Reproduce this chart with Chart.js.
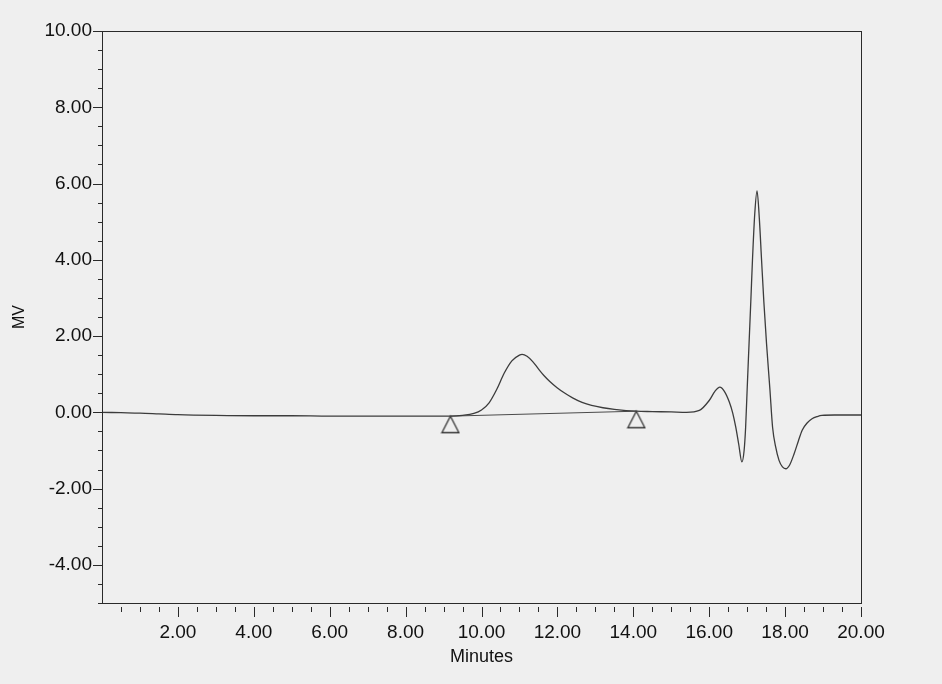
<!DOCTYPE html>
<html>
<head>
<meta charset="utf-8">
<script src="https://cdn.jsdelivr.net/npm/chart.js@4.4.0/dist/chart.umd.min.js"></script>
<style>
  body { margin: 0; background: #efefef; }
  #wrap { width: 942px; height: 684px; }
</style>
</head>
<body>
<div id="wrap"><canvas id="chart1" width="942" height="684"></canvas></div>
<script>
//------------------------------------------- Data -------------------------------------------//
const minutes = [0, 0.5, 1.0, 1.5, 2.0, 3.0, 4.0, 5.0, 6.0, 7.0, 8.0, 9.0, 9.18, 9.5, 9.8,
    10.0, 10.2, 10.4, 10.6, 10.8, 11.0, 11.07, 11.2, 11.35, 11.5, 11.65, 11.8, 12.0, 12.2, 12.4,
    12.65, 12.9, 13.2, 13.5, 14.08, 14.5, 15.0, 15.4, 15.74, 16.0, 16.15, 16.28, 16.4, 16.53,
    16.62, 16.7, 16.78, 16.86, 16.92, 16.96, 17.0, 17.05, 17.1, 17.14, 17.2, 17.26, 17.32, 17.38,
    17.44, 17.51, 17.6, 17.67, 17.75, 17.84, 17.93, 18.02, 18.12, 18.24, 18.35, 18.45, 18.58,
    18.71, 18.85, 18.97, 19.3, 19.6, 20.0];
const mv = [0.0, -0.01, -0.02, -0.04, -0.06, -0.08, -0.09, -0.09, -0.1, -0.1, -0.1, -0.1, -0.1, -0.08, -0.03,
    0.06, 0.25, 0.6, 1.03, 1.35, 1.5, 1.52, 1.47, 1.33, 1.14, 0.96, 0.81, 0.64, 0.5, 0.38,
    0.26, 0.18, 0.12, 0.08, 0.03, 0.02, 0.01, 0.0, 0.05, 0.31, 0.55, 0.66, 0.55, 0.27,
    -0.02, -0.39, -0.85, -1.3, -1.0, -0.39, 0.6, 1.8, 3.0, 3.99, 5.2, 5.81, 5.1, 3.99,
    2.9, 1.81, 0.6, -0.39, -0.9, -1.26, -1.43, -1.48, -1.38, -1.08, -0.75, -0.47, -0.28,
    -0.17, -0.11, -0.08, -0.07, -0.07, -0.07];

// peak start / end (integration baseline + triangle markers)
const peak_minutes = [9.18, 14.08];
const peak_mv = [-0.1, 0.03];

const x_min = 0, x_max = 20;
const y_min = -5, y_max = 10;

//------------------------------------------- Helpers -------------------------------------------//
function toPoints(xs, ys) {
    return xs.map((v, i) => ({x: v, y: ys[i]}));
}

// triangle with its apex in the middle of the image, so it hangs under the point
function makeTriangle() {
    var c = document.createElement('canvas');
    c.width = 20; c.height = 36;
    var g = c.getContext('2d');
    g.strokeStyle = '#333';
    g.lineWidth = 1.3;
    g.beginPath();
    g.moveTo(10, 18);
    g.lineTo(18.5, 34.5);
    g.lineTo(1.5, 34.5);
    g.closePath();
    g.stroke();
    return c;
}

// frame + major/minor tick marks drawn from the scales
const frameTicks = {
    id: 'frameTicks',
    afterDraw(chart) {
        const {ctx, chartArea: a, scales: {x, y}} = chart;
        ctx.save();
        ctx.strokeStyle = '#2a2a2a';
        ctx.lineWidth = 1;
        ctx.strokeRect(a.left + 0.5, a.top + 0.5, a.right - a.left, a.bottom - a.top);
        ctx.beginPath();
        x.ticks.forEach(t => {
            if (t.value === 0) return;
            const px = Math.round(x.getPixelForValue(t.value)) + 0.5;
            const len = t.value % 2 === 0 ? 10 : 5;
            ctx.moveTo(px, a.bottom + 4);
            ctx.lineTo(px, a.bottom + 4 + len);
        });
        y.ticks.forEach(t => {
            const py = Math.round(y.getPixelForValue(t.value)) + 0.5;
            const len = t.value % 2 === 0 ? 9 : 4;
            ctx.moveTo(a.left - len, py);
            ctx.lineTo(a.left, py);
        });
        ctx.stroke();
        ctx.restore();
    }
};

//------------------------------------------- Chart -------------------------------------------//
const tickFont = {family: 'Liberation Sans, Arial, sans-serif', size: 19};

var chart1 = new Chart(document.getElementById('chart1'), {
    type: 'scatter',
    data: {
        datasets: [{
            label: 'MV',
            data: toPoints(minutes, mv),
            showLine: true,
            borderColor: '#3c3c3c',
            borderWidth: 1.3,
            pointRadius: 0,
            cubicInterpolationMode: 'monotone',
            fill: false
        }, {
            label: 'baseline',
            data: toPoints(peak_minutes, peak_mv),
            showLine: true,
            borderColor: '#4a4a4a',
            borderWidth: 1,
            pointRadius: 0
        }, {
            label: 'marks',
            data: toPoints(peak_minutes, peak_mv),
            showLine: false,
            pointStyle: makeTriangle(),
            pointRadius: 10
        }]
    },
    options: {
        responsive: false,
        animation: false,
        layout: {padding: {left: 0, top: 31, right: 81, bottom: 0}},
        plugins: {legend: {display: false}, tooltip: {enabled: false}},
        scales: {
            x: {
                type: 'linear',
                min: x_min, max: x_max,
                grid: {display: true, drawOnChartArea: false, drawTicks: false},
                border: {display: false},
                ticks: {
                    stepSize: 0.5, autoSkip: false, maxRotation: 0, maxTicksLimit: 100,
                    padding: 18, color: '#111', font: tickFont,
                    callback: v => (v % 2 === 0 && v !== 0) ? v.toFixed(2) : ''
                },
                title: {display: true, text: 'Minutes', color: '#111',
                    font: {family: 'Liberation Sans, Arial, sans-serif', size: 18},
                    padding: {top: 0, bottom: 16}},
                afterFit: s => { s.height = 81; }
            },
            y: {
                type: 'linear',
                min: y_min, max: y_max,
                grid: {display: true, drawOnChartArea: false, drawTicks: false},
                border: {display: false},
                ticks: {
                    stepSize: 0.5, autoSkip: false, maxTicksLimit: 100,
                    padding: 10, color: '#111', font: tickFont,
                    callback: v => (v % 2 === 0) ? v.toFixed(2) : ''
                },
                title: {display: true, text: 'MV', color: '#111',
                    font: {family: 'Liberation Sans, Arial, sans-serif', size: 16},
                    padding: {top: 10, bottom: 0}},
                afterFit: s => { s.width = 102; }
            }
        }
    },
    plugins: [frameTicks]
});
</script>
</body>
</html>
